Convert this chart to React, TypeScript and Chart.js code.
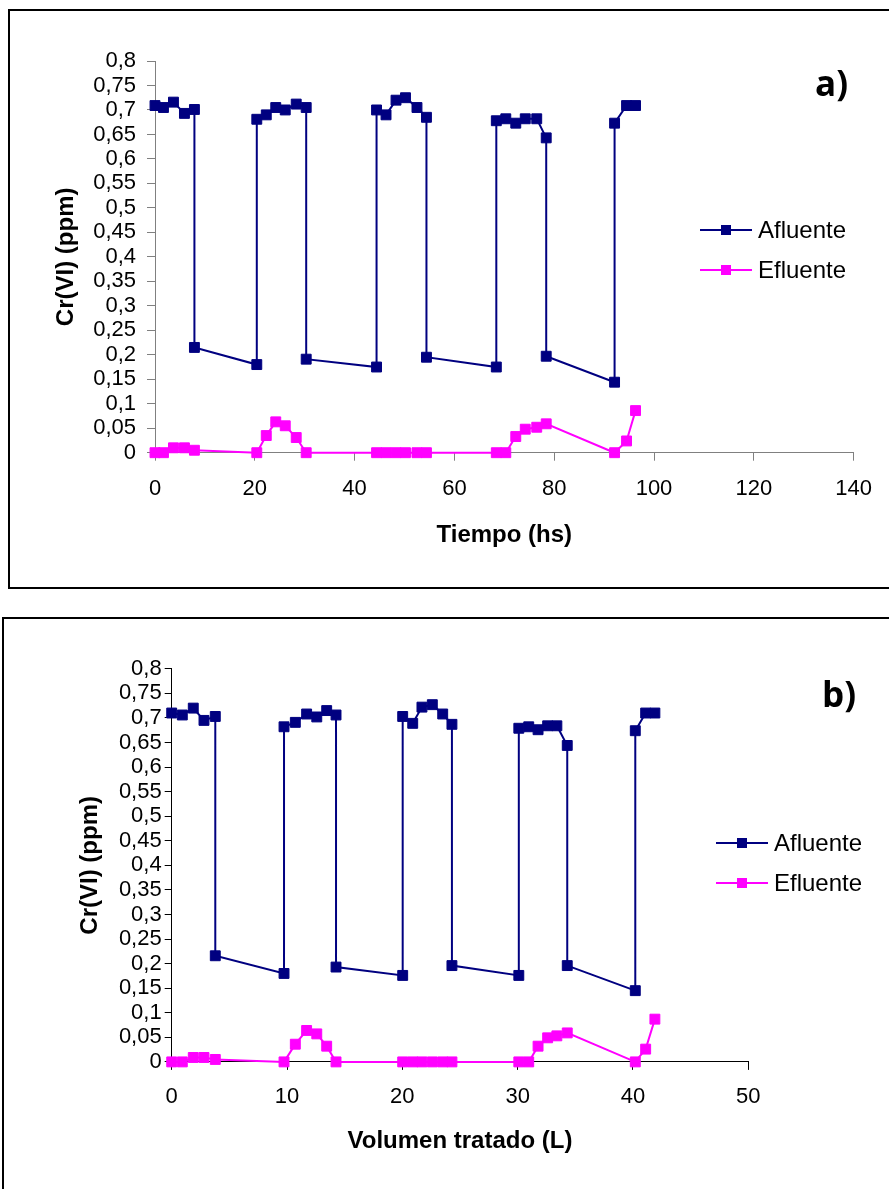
import React, { useEffect, useRef } from "react";
import { Chart, registerables } from "chart.js";

Chart.register(...registerables);

// ---------- Data: panel a) time (hs) ----------
const timeAfluente = [0, 1.7, 3.7, 5.9, 7.9, 7.9, 20.4, 20.4, 22.3, 24.2, 26.1, 28.3, 30.3, 30.3, 44.4, 44.4, 46.3, 48.3, 50.2, 52.5, 54.4, 54.4, 68.4, 68.4, 70.3, 72.3, 74.2, 76.5, 78.4, 78.4, 92.1, 92.1, 94.5, 96.3];
const afluenteA = [0.709, 0.705, 0.716, 0.693, 0.701, 0.215, 0.18, 0.681, 0.69, 0.705, 0.7, 0.712, 0.705, 0.191, 0.175, 0.7, 0.69, 0.72, 0.725, 0.705, 0.685, 0.195, 0.175, 0.678, 0.682, 0.673, 0.682, 0.682, 0.643, 0.197, 0.144, 0.673, 0.709, 0.709];
const timeEfluente = [0, 1.7, 3.7, 5.9, 7.9, 20.4, 22.3, 24.2, 26.1, 28.3, 30.3, 44.4, 46.3, 48.3, 50.2, 52.5, 54.4, 68.4, 70.3, 72.3, 74.2, 76.5, 78.4, 92.1, 94.5, 96.3];
const efluenteA = [0, 0, 0.01, 0.01, 0.005, 0, 0.035, 0.063, 0.055, 0.031, 0, 0, 0, 0, 0, 0, 0, 0, 0, 0.033, 0.048, 0.052, 0.059, 0, 0.024, 0.086];

// ---------- Data: panel b) volume (L) ----------
const volAfluente = [0, 0.92, 1.87, 2.8, 3.78, 3.78, 9.74, 9.74, 10.72, 11.7, 12.58, 13.44, 14.25, 14.25, 20.03, 20.03, 20.9, 21.7, 22.6, 23.5, 24.3, 24.3, 30.1, 30.1, 30.96, 31.77, 32.6, 33.4, 34.3, 34.3, 40.2, 40.2, 41.1, 41.9];
const afluenteB = [0.71, 0.706, 0.72, 0.695, 0.703, 0.216, 0.18, 0.682, 0.691, 0.708, 0.702, 0.715, 0.706, 0.193, 0.176, 0.703, 0.689, 0.722, 0.727, 0.708, 0.687, 0.196, 0.176, 0.679, 0.682, 0.676, 0.684, 0.684, 0.644, 0.196, 0.145, 0.674, 0.71, 0.71];
const volEfluente = [0, 0.92, 1.87, 2.8, 3.78, 9.74, 10.72, 11.7, 12.58, 13.44, 14.25, 20.03, 20.9, 21.7, 22.6, 23.5, 24.3, 30.1, 30.96, 31.77, 32.6, 33.4, 34.3, 40.2, 41.1, 41.9];
const efluenteB = [0, 0, 0.009, 0.009, 0.005, 0, 0.036, 0.064, 0.057, 0.032, 0, 0, 0, 0, 0, 0, 0, 0, 0, 0.032, 0.049, 0.053, 0.059, 0, 0.026, 0.087];

const seriesNames = ["Afluente", "Efluente"];
const yAxisTitle = "Cr(VI) (ppm)";
const xTitleA = "Tiempo (hs)";
const xTitleB = "Volumen tratado (L)";
const yMin = 0, yMax = 0.8, yStep = 0.05;

const NAVY = "#000080";
const MAGENTA = "#FF00FF";
const FONT = "'Liberation Sans', Arial, sans-serif";

const toPts = (xs: number[], ys: number[]) => xs.map((x, i) => ({ x, y: ys[i] }));

type PanelProps = {
  left: number; top: number; width: number; height: number;
  yScaleWidth: number; padTop: number; padRight: number; xScaleHeight: number;
  xMax: number; xStep: number; xTitle: string;
  xAflu: number[]; yAflu: number[]; xEflu: number[]; yEflu: number[];
  axisColor: string; yTickLen: number; yTickPad: number; xTickPad: number; yTitleOffset: number; xTitleOffset: number;
  legendX: number; legendY: number; label: string; labelX: number; labelY: number;
};

function Panel(p: PanelProps) {
  const ref = useRef<HTMLCanvasElement | null>(null);
  useEffect(() => {
    if (!ref.current) return;
    const overlay = {
      id: "overlay" + p.label,
      afterDraw(chart: any) {
        const ctx = chart.ctx;
        ctx.save();
        const colors = [NAVY, MAGENTA];
        const lineLen = 52;
        seriesNames.forEach((name, i) => {
          const yy = p.legendY + i * 40;
          ctx.strokeStyle = colors[i];
          ctx.lineWidth = 2;
          ctx.beginPath();
          ctx.moveTo(p.legendX, yy);
          ctx.lineTo(p.legendX + lineLen, yy);
          ctx.stroke();
          ctx.fillStyle = colors[i];
          ctx.fillRect(p.legendX + lineLen / 2 - 5, yy - 5, 10, 10);
          ctx.fillStyle = "#000";
          ctx.font = "24px " + FONT;
          ctx.textAlign = "left";
          ctx.textBaseline = "middle";
          ctx.fillText(name, p.legendX + lineLen + 6, yy + 1);
        });
        ctx.font = "bold 35px 'Open Sans', sans-serif";
        ctx.textBaseline = "alphabetic";
        ctx.fillText(p.label, p.labelX, p.labelY);
        ctx.restore();
      },
    };
    const chart = new Chart(ref.current, {
      type: "line",
      data: {
        datasets: [
          {
            label: seriesNames[0],
            data: toPts(p.xAflu, p.yAflu),
            borderColor: NAVY,
            backgroundColor: NAVY,
            borderWidth: 2,
            pointStyle: "rect",
            pointRadius: 7,
            pointBorderWidth: 1,
            tension: 0,
            clip: false as any,
          },
          {
            label: seriesNames[1],
            data: toPts(p.xEflu, p.yEflu),
            borderColor: MAGENTA,
            backgroundColor: MAGENTA,
            borderWidth: 2,
            pointStyle: "rect",
            pointRadius: 7,
            pointBorderWidth: 1,
            tension: 0,
            clip: false as any,
          },
        ],
      },
      options: {
        animation: false,
        responsive: false,
        maintainAspectRatio: false,
        layout: { padding: { left: 0, top: p.padTop, right: p.padRight, bottom: 0 } },
        plugins: { legend: { display: false }, tooltip: { enabled: false } },
        scales: {
          x: {
            type: "linear",
            min: 0,
            max: p.xMax,
            afterFit: (s: any) => { s.height = p.xScaleHeight; },
            ticks: { stepSize: p.xStep, color: "#000", font: { size: 22, family: FONT, lineHeight: 1 }, padding: p.xTickPad, maxRotation: 0, autoSkip: false },
            grid: { drawOnChartArea: false, drawTicks: true, tickLength: 8, color: p.axisColor },
            border: { display: true, color: p.axisColor, width: 1 },
            title: { display: true, text: p.xTitle, color: "#000", font: { size: 24, weight: "bold", family: FONT }, padding: { top: 0, bottom: p.xTitleOffset } },
          },
          y: {
            type: "linear",
            min: yMin,
            max: yMax,
            afterFit: (s: any) => { s.width = p.yScaleWidth; },
            ticks: {
              stepSize: yStep,
              color: "#000",
              font: { size: 22, family: FONT, lineHeight: 1 },
              padding: p.yTickPad,
              autoSkip: false,
              callback: (v: any) => String(Math.round(Number(v) * 100) / 100).replace(".", ","),
            },
            grid: { drawOnChartArea: false, drawTicks: true, tickLength: p.yTickLen, color: p.axisColor },
            border: { display: true, color: p.axisColor, width: 1 },
            title: { display: true, text: yAxisTitle, color: "#000", font: { size: 24, weight: "bold", family: FONT }, padding: { top: p.yTitleOffset, bottom: 0 } },
          },
        },
      },
      plugins: [overlay],
    } as any);
    return () => chart.destroy();
  }, []);
  return (
    <canvas
      ref={ref}
      width={p.width}
      height={p.height}
      style={{ position: "absolute", left: p.left, top: p.top, width: p.width, height: p.height }}
    />
  );
}

export default function App() {
  return (
    <div style={{ position: "absolute", left: 0, top: 0, width: 889, height: 1189, overflow: "hidden", background: "#fff" }}>
      <div style={{ position: "absolute", left: 8, top: 9, width: 920, height: 576, border: "2px solid #000" }} />
      <div style={{ position: "absolute", left: 2, top: 617, width: 920, height: 620, border: "2px solid #000" }} />
      <Panel
        left={10} top={11} width={879} height={576}
        yScaleWidth={145} padTop={50} padRight={35.4} xScaleHeight={134.3}
        xMax={140} xStep={20} xTitle={xTitleA}
        xAflu={timeAfluente} yAflu={afluenteA} xEflu={timeEfluente} yEflu={efluenteA}
        axisColor="#808080" yTickLen={8} yTickPad={11} xTickPad={17} yTitleOffset={41.6} xTitleOffset={37.6}
        legendX={690} legendY={219} label="a)" labelX={805} labelY={85}
      />
      <Panel
        left={4} top={619} width={885} height={570}
        yScaleWidth={167.7} padTop={49.8} padRight={140.7} xScaleHeight={127.1}
        xMax={50} xStep={10} xTitle={xTitleB}
        xAflu={volAfluente} yAflu={afluenteB} xEflu={volEfluente} yEflu={efluenteB}
        axisColor="#000" yTickLen={7} yTickPad={3} xTickPad={16} yTitleOffset={71.6} xTitleOffset={33.6}
        legendX={712} legendY={224} label="b)" labelX={818} labelY={88}
      />
    </div>
  );
}
